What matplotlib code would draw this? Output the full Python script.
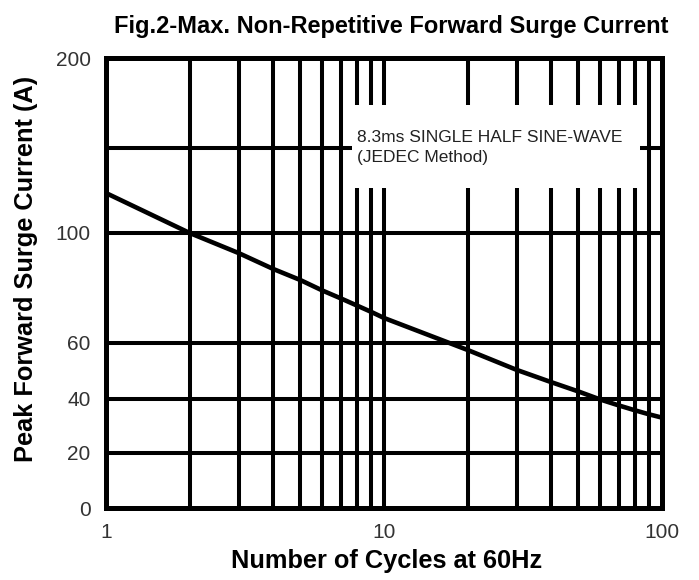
import numpy as np
import matplotlib
matplotlib.use("Agg")
import matplotlib.pyplot as plt
from matplotlib.patches import Rectangle

# ---- data ----
cycles = [1, 2, 3, 4, 5, 6, 7, 8, 9, 10, 20, 30, 40, 50, 60, 70, 80, 90, 100]
current = [123.5, 100, 92.7, 86.9, 82.9, 79.1, 76.2, 73.6, 71.3, 69.1,
           57.5, 50.4, 46.0, 42.7, 39.8, 37.6, 35.8, 34.3, 33.1]

y_tick_values = [0, 20, 40, 60, 100, 200]
y_tick_labels = ["0", "20", "40", "60", "100", "200"]
y_grid_values = [20, 40, 60, 100, 150]
x_tick_values = [1, 10, 100]
x_tick_labels = ["1", "10", "100"]
x_grid_values = [2, 3, 4, 5, 6, 7, 8, 9, 10, 20, 30, 40, 50, 60, 70, 80, 90]

# non-uniform vertical scale of the original chart (value -> relative height)
scale_values = [0, 20, 40, 60, 100, 150, 200]
scale_heights = [0, 55, 109, 165, 275, 360, 450]

title = "Fig.2-Max. Non-Repetitive Forward Surge Current"
xlabel = "Number of Cycles at 60Hz"
ylabel = "Peak Forward Surge Current (A)"
note = "8.3ms SINGLE HALF SINE-WAVE\n(JEDEC Method)"

plt.rcParams['font.family'] = ['Liberation Sans', 'DejaVu Sans']

def fwd(v):
    return np.interp(v, scale_values, scale_heights)

def inv(h):
    return np.interp(h, scale_heights, scale_values)

fig = plt.figure(figsize=(6.99, 5.80), dpi=100)
ax = fig.add_axes([106/699, 1-508/580, 556/699, 450/580])
ax.set_xscale('log')
ax.set_yscale('function', functions=(fwd, inv))
ax.set_xlim(1, 100)
ax.set_ylim(0, 200)

for xv in x_grid_values:
    ax.axvline(xv, color='black', lw=2.9, zorder=1)
for yv in y_grid_values:
    ax.axhline(yv, color='black', lw=2.9, zorder=1)

ax.add_patch(Rectangle((0.442, 0.711), 0.518, 0.185, transform=ax.transAxes,
                       facecolor='white', edgecolor='none', zorder=2))
ax.text(0.452, 0.801, note, transform=ax.transAxes, fontsize=12.5,
        color='#222222', va='center', ha='left', linespacing=1.45, zorder=3)

ax.plot(cycles, current, color='black', lw=3.3, zorder=4, solid_capstyle='butt',
        solid_joinstyle='round')

for s in ax.spines.values():
    s.set_linewidth(3.6)
    s.set_zorder(5)

ax.set_yticks(y_tick_values)
ax.set_yticklabels(y_tick_labels)
ax.set_xticks(x_tick_values)
ax.set_xticklabels(x_tick_labels)
ax.minorticks_off()
ax.tick_params(axis='both', length=0, labelsize=15, labelcolor='#333333')
ax.tick_params(axis='y', pad=11)
ax.tick_params(axis='x', pad=11)

fig.text(387/699, 1-561/580, xlabel, fontsize=18.3, fontweight='bold',
         ha='center', va='center')
fig.text(26/699, 1-268.5/580, ylabel, fontsize=18.3, fontweight='bold',
         ha='center', va='center', rotation=90)
fig.text(391/699, 1-26/580, title, fontsize=17, fontweight='bold', ha='center', va='center')

fig.savefig('out.png', dpi=100)
